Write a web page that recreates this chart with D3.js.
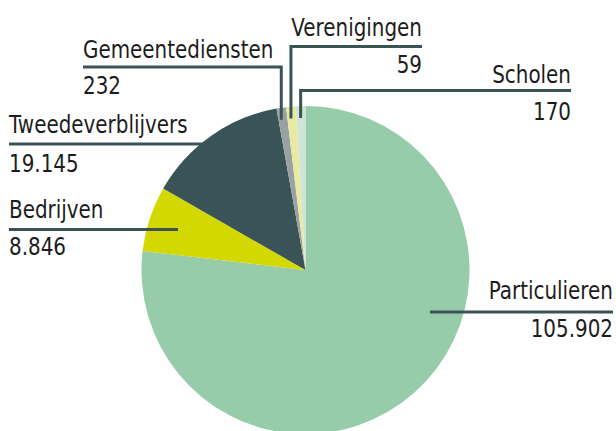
<!DOCTYPE html>
<html>
<head>
<meta charset="utf-8">
<script src="https://cdn.jsdelivr.net/npm/d3@7"></script>
<style>
  body { margin: 0; background: #fff; }
  svg text { font-family: "DejaVu Sans", sans-serif; font-size: 24px; fill: #1c1c1c; }
</style>
</head>
<body>
<svg class="pie_chart" width="616" height="431"></svg>
<script>
// data, clockwise from 12 o'clock
var categories = ["Particulieren", "Bedrijven", "Tweedeverblijvers", "Gemeentediensten", "Verenigingen", "Scholen"];
var values = [105902, 8846, 19145, 232, 59, 170];
var colors = ["#97ccaa", "#d3d800", "#3a5356", "#98a2a1", "#e9e9a1", "#cfe5d8"];

var width = 616, height = 431;
var cx = 305.5, cy = 270, radius = 164;

// tiny slices get a minimum share so they stay visible
var minValue = 1300;
// squeeze the text, no condensed font is available
var squeeze = 0.83;

var nl = d3.formatLocale({decimal: ",", thousands: ".", grouping: [3], currency: ["€", ""]});
var fmt = nl.format(",d");

var svg = d3.select(".pie_chart");

var pie = d3.pie()
    .sort(null)
    .value(function(d) { return Math.max(d.value, minValue); });

var arc = d3.arc()
    .innerRadius(0)
    .outerRadius(radius);

var data = categories.map(function(c, i) { return {name: c, value: values[i], color: colors[i]}; });
var arcs = pie(data);

var g = svg.append("g")
    .attr("transform", "translate(" + cx + "," + cy + ")");

g.selectAll("path")
    .data(arcs)
    .enter().append("path")
    .attr("d", arc)
    .attr("fill", function(d) { return d.data.color; });

// label placement (annotation layout only)
var layout = {
    "Particulieren":     {anchor: "end",   x: 613, nameY: 299, valueY: 337, lineY: 312, from: 430},
    "Bedrijven":         {anchor: "start", x: 9,   nameY: 218, valueY: 255, lineY: 229.5, to: 178},
    "Tweedeverblijvers": {anchor: "start", x: 9,   nameY: 133, valueY: 172, lineY: 144, to: 204},
    "Gemeentediensten":  {anchor: "start", x: 83,  nameY: 58,  valueY: 94,  lineY: 67,  elbow: true},
    "Verenigingen":      {anchor: "end",   x: 422, nameY: 36,  valueY: 73,  lineY: 46.5, elbow: true},
    "Scholen":           {anchor: "end",   x: 571, nameY: 83,  valueY: 120, lineY: 90.5, elbow: true}
};

var lineColor = "#3a5356";

function label(x, y, anchor, txt) {
    svg.append("g")
        .attr("transform", "translate(" + x + "," + y + ")")
      .append("g")
        .attr("transform", "scale(" + squeeze + " 1)")
      .append("text")
        .attr("x", 0)
        .attr("y", 0)
        .attr("text-anchor", anchor)
        .text(txt);
}

arcs.forEach(function(a) {
    var L = layout[a.data.name];
    var mid = (a.startAngle + a.endAngle) / 2;
    var pts;
    if (L.elbow) {
        var ex = cx + radius * Math.sin(mid);
        var ey = cy - (radius - 12) * Math.cos(mid);
        if (L.anchor === "start")
            pts = [[L.x, L.lineY], [ex, L.lineY], [ex, ey]];
        else
            pts = [[ex, ey], [ex, L.lineY], [L.x, L.lineY]];
    } else if (L.anchor === "start") {
        pts = [[L.x, L.lineY], [L.to, L.lineY]];
    } else {
        pts = [[L.from, L.lineY], [L.x, L.lineY]];
    }

    svg.append("path")
        .attr("d", d3.line()(pts))
        .attr("fill", "none")
        .attr("stroke", lineColor)
        .attr("stroke-width", 3);

    label(L.x, L.nameY, L.anchor, a.data.name);
    label(L.x, L.valueY, L.anchor, fmt(a.data.value));
});
</script>
</body>
</html>
